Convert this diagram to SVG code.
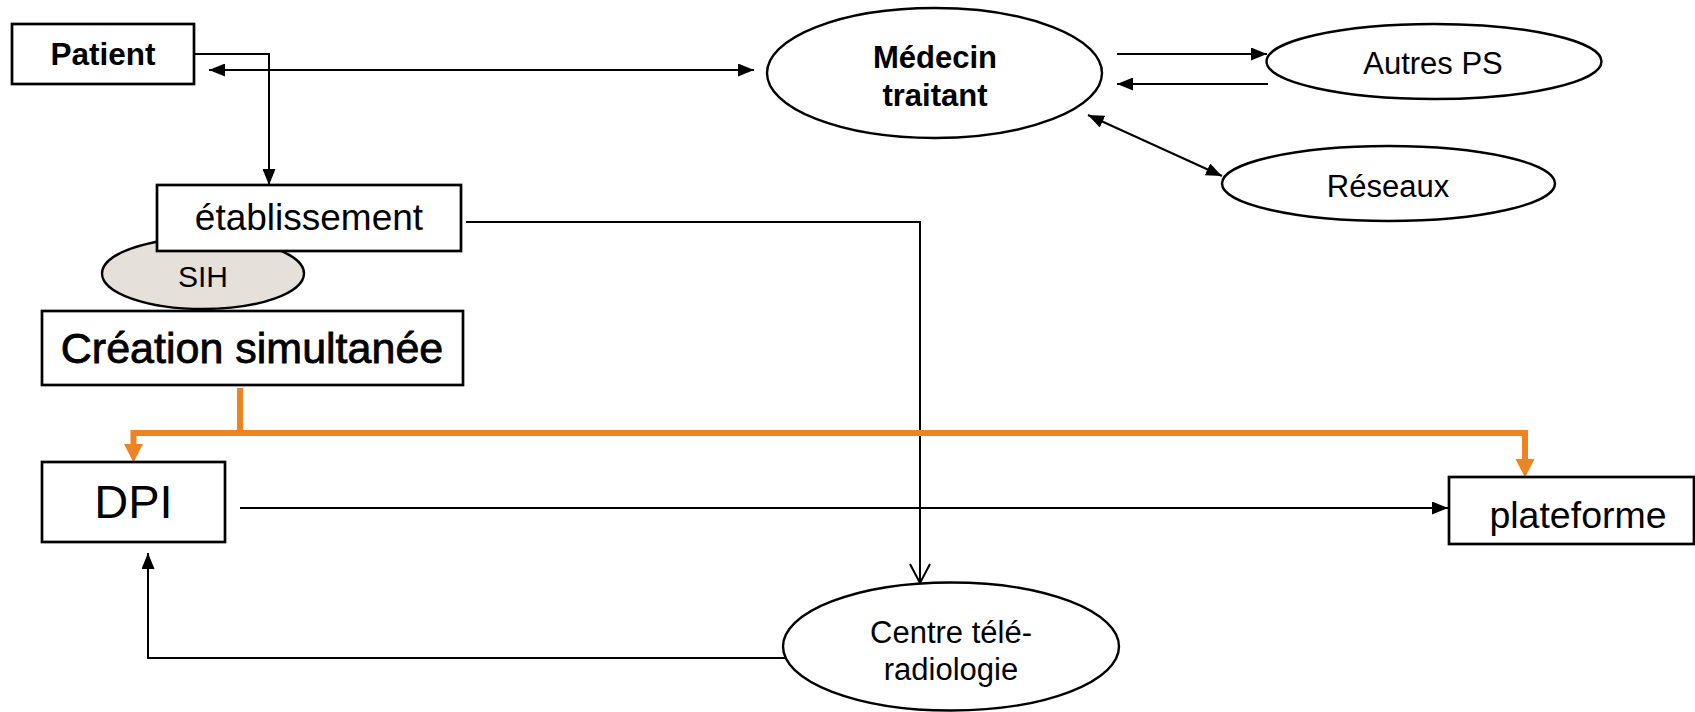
<svg xmlns="http://www.w3.org/2000/svg" width="1695" height="712" viewBox="0 0 1695 712">
  <style>
    .box { fill: #ffffff; stroke: #000000; stroke-width: 2.7; }
    .ell { fill: #ffffff; stroke: #000000; stroke-width: 2.4; }
    .sih { fill: #e6e0da; stroke: #000000; stroke-width: 2.4; }
    .t { font-family: "Liberation Sans", Arial, sans-serif; fill: #000000; text-anchor: middle; }
    .b { font-weight: bold; }
    .h { stroke: #000000; stroke-width: 0.8; }
    .c { fill: none; stroke: #000000; stroke-width: 2; }
    .o { fill: none; stroke: #ee8421; stroke-width: 6; }
  </style>
  <defs>
    <marker id="ah" markerUnits="userSpaceOnUse" markerWidth="16" markerHeight="13" refX="16" refY="6.5" orient="auto-start-reverse">
      <path d="M0,0 L16,6.5 L0,13 z" fill="#000000"/>
    </marker>
    <marker id="vh" markerUnits="userSpaceOnUse" markerWidth="22" markerHeight="24" refX="20" refY="11" orient="auto">
      <path d="M1,1 L20,11 L1,21" fill="none" stroke="#000000" stroke-width="2"/>
    </marker>
    <marker id="oh" markerUnits="userSpaceOnUse" markerWidth="19" markerHeight="20" refX="0" refY="9.5" orient="auto">
      <path d="M0,0 L18.5,9.5 L0,19 z" fill="#ee8421"/>
    </marker>
  </defs>

  <g id="connectors">
    <path class="c" d="M194,54 H269 V185" marker-end="url(#ah)"/>
    <path class="c" d="M209,70 H754" marker-start="url(#ah)" marker-end="url(#ah)"/>
    <path class="c" d="M1117,54 H1267" marker-end="url(#ah)"/>
    <path class="c" d="M1268,84 H1117" marker-end="url(#ah)"/>
    <path class="c" d="M1088,115 L1222,176" marker-start="url(#ah)" marker-end="url(#ah)"/>
    <path class="c" d="M466,222 H920 V583" marker-end="url(#vh)"/>
    <path class="c" d="M785,658 H148 V553" marker-end="url(#ah)"/>
    <path class="c" d="M240,508 H1448" marker-end="url(#ah)"/>
    <path class="o" d="M240,388 V433"/>
    <path class="o" d="M240,433 H133.5 V444" marker-end="url(#oh)"/>
    <path class="o" d="M240,433 H1525 V459" marker-end="url(#oh)"/>
  </g>

  <g id="patient">
    <rect class="box" x="12" y="24" width="182" height="60"/>
    <text class="t b" x="103" y="65" font-size="31.5">Patient</text>
  </g>

  <g id="medecin">
    <ellipse class="ell" cx="934.5" cy="73" rx="167.5" ry="65"/>
    <text class="t b" x="935" y="68" font-size="31">Médecin</text>
    <text class="t b" x="935" y="106" font-size="31">traitant</text>
  </g>

  <g id="autres-ps">
    <ellipse class="ell" cx="1434" cy="61.5" rx="167.5" ry="37.5"/>
    <text class="t" x="1433" y="74" font-size="31">Autres PS</text>
  </g>

  <g id="reseaux">
    <ellipse class="ell" cx="1388.5" cy="183.5" rx="166.5" ry="37.5"/>
    <text class="t" x="1388" y="197" font-size="31">Réseaux</text>
  </g>

  <g id="sih">
    <ellipse class="sih" cx="203" cy="273.5" rx="101" ry="35.5"/>
    <text class="t" x="203" y="287" font-size="30">SIH</text>
  </g>

  <g id="etablissement">
    <rect class="box" x="157" y="185" width="304" height="66"/>
    <text class="t" x="309" y="230" font-size="37">établissement</text>
  </g>

  <g id="creation">
    <rect class="box" x="42" y="311" width="421" height="74"/>
    <text class="t h" x="252" y="363" font-size="43">Création simultanée</text>
  </g>

  <g id="dpi">
    <rect class="box" x="42" y="462" width="183" height="80"/>
    <text class="t" x="133.5" y="518" font-size="47">DPI</text>
  </g>

  <g id="plateforme">
    <rect class="box" x="1449" y="477" width="245" height="67"/>
    <text class="t" x="1578" y="528" font-size="37.5">plateforme</text>
  </g>

  <g id="centre">
    <ellipse class="ell" cx="951" cy="646.5" rx="168" ry="64"/>
    <text class="t" x="951" y="643" font-size="31">Centre télé-</text>
    <text class="t" x="951" y="680" font-size="31">radiologie</text>
  </g>
</svg>
